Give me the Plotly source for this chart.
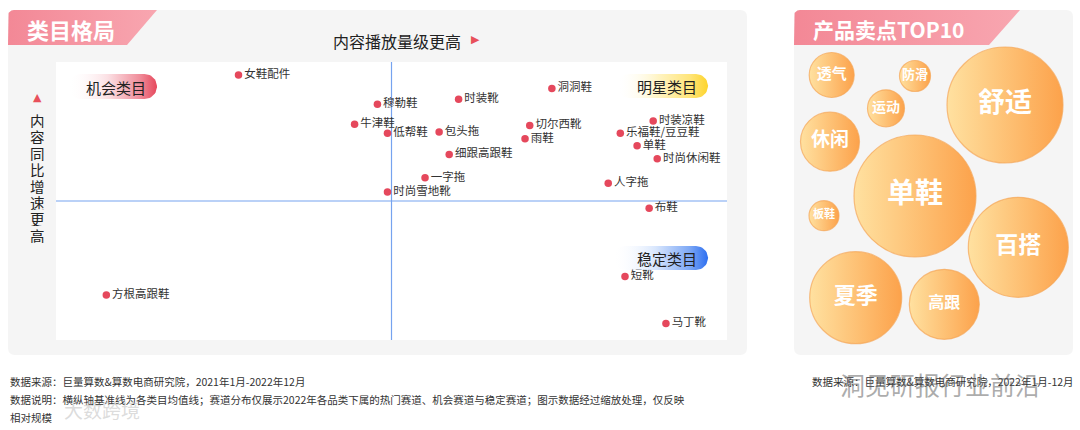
import numpy as np
import plotly.graph_objects as go

W, H = 1080, 430

# ---------------- data ----------------
categories = ["女鞋配件", "穆勒鞋", "牛津鞋", "低帮鞋", "包头拖", "时装靴", "细跟高跟鞋",
              "一字拖", "时尚雪地靴", "洞洞鞋", "切尔西靴", "雨鞋", "时装凉鞋", "乐福鞋/豆豆鞋",
              "单鞋", "时尚休闲鞋", "人字拖", "布鞋", "方根高跟鞋", "短靴", "马丁靴"]
play_level = [27.2, 47.9, 44.5, 49.4, 57.1, 60.0, 58.6, 55.0, 49.4, 73.9, 70.6, 69.9,
              89.0, 84.1, 86.6, 89.6, 82.3, 88.4, 7.5, 84.8, 90.9]
yoy_growth = [95.3, 84.8, 77.6, 74.4, 74.8, 86.6, 66.7, 58.4, 53.2, 90.5, 77.2, 72.4,
              78.8, 74.4, 69.9, 65.2, 56.4, 47.4, 16.2, 22.8, 5.9]
mean_play = 50
mean_growth = 50

quadrant_names = ["机会类目", "明星类目", "稳定类目"]

selling_points = ["单鞋", "舒适", "百搭", "夏季", "高跟", "休闲", "透气", "运动", "防滑", "板鞋"]
selling_score = [122, 116, 100, 92, 70, 59, 45, 37, 31, 30]

x_title = "内容播放量级更高"
y_title = "内容同比增速更高"
source_left = "数据来源：巨量算数&算数电商研究院，2021年1月-2022年12月"
note_line1 = "数据说明：横纵轴基准线为各类目均值线；赛道分布仅展示2022年各品类下属的热门赛道、机会赛道与稳定赛道；图示数据经过缩放处理，仅反映"
note_line2 = "相对规模"
source_right = "数据来源：巨量算数&算数电商研究院，2022年1月-12月"

# ---------------- layout helpers (pixel positions) ----------------
def px(x):
    return x / W


def py(y):
    return 1 - y / H


FONT = "Noto Sans CJK SC"
RED = "#e5485c"

# bubble packing positions (layout, pixels in right panel)
bubble_cx = [915, 1005, 1018.3, 855.7, 944.3, 830, 831.7, 886, 915, 824]
bubble_cy = [196, 105, 247.3, 297.7, 304.3, 141.7, 75, 108.3, 76, 215.7]
bubble_font = [28, 27, 23, 22, 16, 19, 15, 14, 13, 11]

fig = go.Figure()


def rrect_path(x0, y0, x1, y1, r):
    rx, ry = r / W, r / H
    X0, X1 = px(x0), px(x1)
    Y0, Y1 = py(y0), py(y1)
    return (f"M{X0+rx},{Y0} L{X1-rx},{Y0} Q{X1},{Y0} {X1},{Y0-ry} "
            f"L{X1},{Y1+ry} Q{X1},{Y1} {X1-rx},{Y1} L{X0+rx},{Y1} "
            f"Q{X0},{Y1} {X0},{Y1+ry} L{X0},{Y0-ry} Q{X0},{Y0} {X0+rx},{Y0} Z")


shapes = []
shapes.append(dict(type="path", path=rrect_path(8, 10, 747, 355, 7), xref="paper", yref="paper",
                   fillcolor="#f5f5f5", line=dict(width=0), layer="below"))
shapes.append(dict(type="path", path=rrect_path(794, 10, 1073, 355, 7), xref="paper", yref="paper",
                   fillcolor="#f5f5f5", line=dict(width=0), layer="below"))
shapes.append(dict(type="rect", x0=px(56), x1=px(727), y0=py(340), y1=py(62), xref="paper", yref="paper",
                   fillcolor="#ffffff", line=dict(width=0), layer="below"))
shapes.append(dict(type="line", xref="x", yref="y", x0=mean_play, x1=mean_play, y0=0, y1=100,
                   line=dict(color="#76a3ef", width=1.2), layer="below"))
shapes.append(dict(type="line", xref="x", yref="y", x0=0, x1=100, y0=mean_growth, y1=mean_growth,
                   line=dict(color="#76a3ef", width=1.2), layer="below"))


def tab_poly(x0, x1_top, x1_bot, y0, y1, r=6):
    t = np.linspace(np.pi, 1.5 * np.pi, 8)
    cxs = x0 + r + r * np.cos(t)
    cys = y0 + r + r * np.sin(t)
    xs = [x0] + list(cxs) + [x1_top, x1_bot, x0]
    ys = [y1] + list(cys) + [y0, y1, y1]
    return xs, ys


for (x0, xt, xb) in [(8, 157, 127), (794, 1020, 989)]:
    xs, ys = tab_poly(x0, xt, xb, 10, 45)
    fig.add_trace(go.Scatter(x=xs, y=ys, xaxis="x2", yaxis="y2", mode="lines", fill="toself",
                             line=dict(width=0), hoverinfo="skip",
                             fillgradient=dict(type="horizontal",
                                               colorscale=[[0, "#f38896"], [1, "#f8a6b0"]])))


def pill(x0, x1, y0, y1, n=24):
    r = (y1 - y0) / 2
    cy = (y0 + y1) / 2
    t1 = np.linspace(-np.pi / 2, np.pi / 2, n)
    t2 = np.linspace(np.pi / 2, 1.5 * np.pi, n)
    xs = list(x1 - r + r * np.cos(t1)) + list(x0 + r + r * np.cos(t2))
    ys = list(cy + r * np.sin(t1)) + list(cy + r * np.sin(t2))
    return xs + [xs[0]], ys + [ys[0]]


pill_boxes = [(68, 157, 74, 99), (617, 708, 74, 98), (613, 708, 246, 270)]
pill_scales = [
    [[0, "rgba(255,255,255,0)"], [0.45, "#fbdfe3"], [0.8, "#f08f9c"], [1, "#e6485c"]],
    [[0, "rgba(255,255,255,0)"], [0.45, "#fff4c4"], [0.8, "#ffe57a"], [1, "#fdd42c"]],
    [[0, "rgba(255,255,255,0)"], [0.45, "#d8e6fd"], [0.8, "#7fa9f5"], [1, "#2d6ff0"]],
]
for (bx0, bx1, by0, by1), cs in zip(pill_boxes, pill_scales):
    xs, ys = pill(bx0, bx1, by0, by1)
    fig.add_trace(go.Scatter(x=xs, y=ys, xaxis="x2", yaxis="y2", mode="lines", fill="toself",
                             line=dict(width=0), hoverinfo="skip",
                             fillgradient=dict(type="horizontal", colorscale=cs)))

# ---------------- quadrant scatter ----------------
fig.add_trace(go.Scatter(
    x=play_level, y=yoy_growth, text=categories, mode="markers+text",
    textposition="middle right", cliponaxis=False,
    marker=dict(size=7.5, color=RED),
    textfont=dict(family=FONT, size=11.5, color="#333333"),
    xaxis="x", yaxis="y", hoverinfo="text"))

# ---------------- bubbles ----------------
fig.add_trace(go.Scatter(
    x=bubble_cx, y=bubble_cy, text=selling_points, mode="markers+text",
    textposition="middle center", cliponaxis=False,
    marker=dict(size=selling_score, sizemode="diameter", sizeref=1, color="#ffe1a0",
                gradient=dict(type="horizontal", color="#fca24b"),
                line=dict(color="rgba(245,165,85,0.7)", width=1.2), opacity=1),
    textfont=dict(family=FONT, size=bubble_font, color="#ffffff", weight="bold"),
    xaxis="x3", yaxis="y3", hoverinfo="text"))

# ---------------- annotations ----------------
ann = []


def add_text(x, y, text, size, color="#222222", anchor="center", family=FONT, weight="normal",
             height=None):
    a = dict(x=px(x), y=py(y), xref="paper", yref="paper", text=text, showarrow=False,
             xanchor=anchor, yanchor="middle",
             font=dict(family=family, size=size, color=color, weight=weight))
    if height is not None:
        a["height"] = height
    ann.append(a)


add_text(25, 29, "类目格局", 22, "#ffffff", "left", weight="bold")
add_text(811, 29, "产品卖点TOP10", 21, "#ffffff", "left", weight="bold")
add_text(397, 41, x_title, 16)
add_text(475, 40, "▶", 11, "#e8505b", family="DejaVu Sans")
add_text(37, 98, "▲", 11, "#e8505b", family="DejaVu Sans")
for i, ch in enumerate(y_title):
    add_text(37, 120 + i * 16.4, ch, 14.5, height=16)
pill_text_pos = [(116, 87), (667, 86.5), (667, 258)]
for (tx, ty), name in zip(pill_text_pos, quadrant_names):
    add_text(tx, ty, name, 15)
for ty, txt in [(381, source_left), (399, note_line1), (417, note_line2)]:
    add_text(8, ty, txt, 10.5, "#333333", "left")
add_text(1076, 381, source_right, 10.5, "#333333", "right")
# watermarks
add_text(838, 384, "洞见研报行业前沿", 25, "rgba(90,90,90,0.5)", "left")
add_text(62, 409, "大数跨境", 19, "rgba(190,190,190,0.55)", "left")

ax_hidden = dict(visible=False, showgrid=False, zeroline=False, fixedrange=True)
fig.update_layout(
    width=W, height=H, autosize=False,
    margin=dict(l=0, r=0, t=0, b=0, pad=0),
    paper_bgcolor="#ffffff", plot_bgcolor="rgba(0,0,0,0)",
    showlegend=False,
    shapes=shapes, annotations=ann,
    xaxis=dict(domain=[px(56), px(727)], range=[0, 100], anchor="y", **ax_hidden),
    yaxis=dict(domain=[py(340), py(62)], range=[0, 100], anchor="x", **ax_hidden),
    xaxis2=dict(domain=[0, 1], range=[0, W], anchor="y2", **ax_hidden),
    yaxis2=dict(domain=[0, 1], range=[H, 0], anchor="x2", **ax_hidden),
    xaxis3=dict(domain=[px(794), px(1073)], range=[794, 1073], anchor="y3", **ax_hidden),
    yaxis3=dict(domain=[py(355), py(45)], range=[355, 45], anchor="x3", **ax_hidden),
    font=dict(family=FONT),
)

fig.write_html("out.html", config={"displayModeBar": False},
               post_script="document.body.style.margin='0';document.body.style.overflow='hidden';")
